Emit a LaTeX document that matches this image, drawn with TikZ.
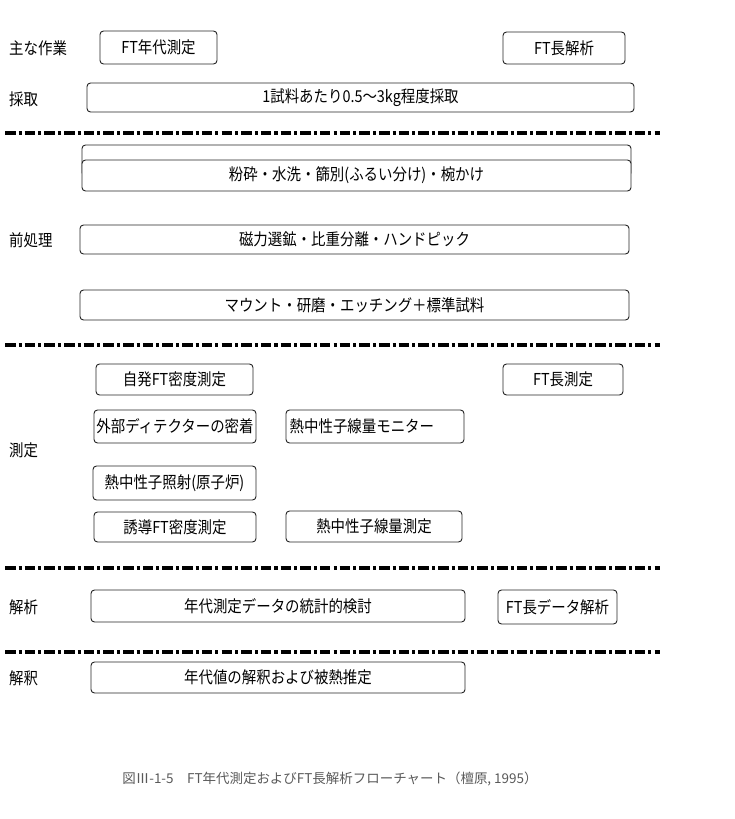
\documentclass[tikz,border=0pt]{standalone}
\usepackage{fontspec}
\setmainfont{Noto Sans CJK JP}[FakeStretch=0.88]
\newfontfamily\capfont{Noto Sans CJK JP}
\tikzset{
  box/.style={draw=black!85, rectangle, rounded corners=3pt, line width=0.8pt, fill=white, inner sep=1pt, align=center, font=\fontsize{14}{16}\selectfont},
  lbl/.style={anchor=west, inner sep=0pt, font=\fontsize{14}{16}\selectfont},
  sepline/.style={line width=3pt, dash pattern=on 9pt off 2.6pt on 2.6pt off 2.6pt}
}

\begin{document}
\begin{tikzpicture}[x=0.03cm, y=-0.03cm]
  \useasboundingbox (0,0) rectangle (734,819);

  % Row labels on the left
  \node[lbl] (lwork) at (9,48) {主な作業};
  \node[lbl] (lsamp) at (9,99) {採取};
  \node[lbl] (lprep) at (9,240) {前処理};
  \node[lbl] (lmeas) at (9,450) {測定};
  \node[lbl] (lanal) at (9,607) {解析};
  \node[lbl] (linterp) at (9,678) {解釈};

  % Main tasks and sampling
  \node[box, minimum width=3.51cm, minimum height=0.99cm] (ftage) at (158.5,47.5) {FT年代測定};
  \node[box, minimum width=3.66cm, minimum height=0.96cm] (ftlen) at (564,48) {FT長解析};
  \node[box, minimum width=16.41cm, minimum height=0.87cm] (samp) at (360.5,97.5) {1試料あたり0.5〜3kg程度採取};

  % Separators
  \draw[sepline] (5,133) -- (660,133);
  \draw[sepline] (5,345) -- (660,345);
  \draw[sepline] (5,568) -- (660,568);
  \draw[sepline] (5,652) -- (660,652);

  % Pretreatment
  \node[box, minimum width=16.47cm, minimum height=0.93cm] (crushback) at (356.5,160.5) {};
  \node[box, minimum width=16.47cm, minimum height=0.93cm] (crush) at (356.5,175.5) {粉砕・水洗・篩別(ふるい分け)・椀かけ};
  \node[box, minimum width=16.47cm, minimum height=0.87cm] (magnet) at (354.5,239.5) {磁力選鉱・比重分離・ハンドピック};
  \node[box, minimum width=16.47cm, minimum height=0.9cm] (mount) at (354.5,305) {マウント・研磨・エッチング＋標準試料};

  % Measurement
  \node[box, minimum width=4.71cm, minimum height=0.93cm] (spont) at (174.5,379.5) {自発FT密度測定};
  \node[box, minimum width=3.6cm, minimum height=0.93cm] (ftlenm) at (563,379.5) {FT長測定};
  \node[box, minimum width=4.86cm, minimum height=0.99cm] (detector) at (175,426.5) {外部ディテクターの密着};
  \node[box, minimum width=5.34cm, minimum height=0.99cm] (monitor) at (375,426.5) {熱中性子線量モニター\hspace*{1.6em}};
  \node[box, minimum width=4.89cm, minimum height=1.02cm] (irrad) at (174.5,483) {熱中性子照射(原子炉)};
  \node[box, minimum width=4.86cm, minimum height=0.9cm] (induced) at (175,527) {誘導FT密度測定};
  \node[box, minimum width=5.28cm, minimum height=0.93cm] (dose) at (374,526.5) {熱中性子線量測定};

  % Analysis and interpretation
  \node[box, minimum width=11.22cm, minimum height=0.96cm] (stat) at (278,606) {年代測定データの統計的検討};
  \node[box, minimum width=3.57cm, minimum height=1.02cm] (ftlendata) at (557.5,607) {FT長データ解析};
  \node[box, minimum width=11.22cm, minimum height=0.93cm] (interp) at (278,677.5) {年代値の解釈および被熱推定};

  % Caption
  \node[font=\capfont\fontsize{11.5}{13}\selectfont, text=black!65] (caption) at (330,779) {図Ⅲ-1-5\quad FT年代測定およびFT長解析フローチャート（檀原, 1995）};
\end{tikzpicture}
\end{document}
